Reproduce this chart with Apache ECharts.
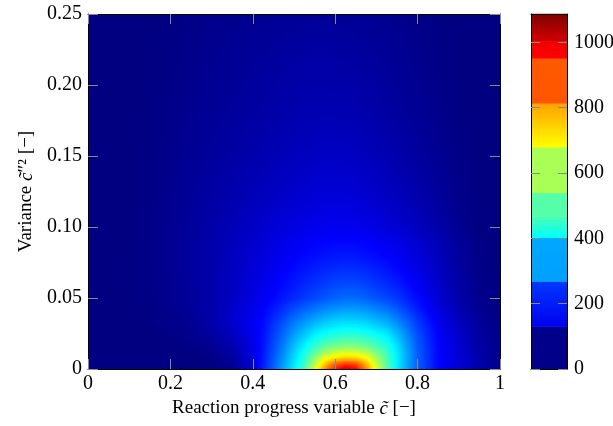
<!DOCTYPE html>
<html>
<head>
<meta charset="utf-8">
<script src="https://cdn.jsdelivr.net/npm/echarts@6/dist/echarts.min.js"></script>
<style>
html,body{margin:0;padding:0;background:#fff;}
#chart{width:613px;height:426px;}
</style>
</head>
<body>
<div id="chart"></div>
<script>
// ---------------- data ----------------
const CMAX = 1087;                       // colour bar top
const cTicks = [0, 0.2, 0.4, 0.6, 0.8, 1];
const varTicks = [0, 0.05, 0.1, 0.15, 0.2, 0.25];
const colorTicks = [0, 200, 400, 600, 800, 1000];

// sample positions of the field
const cSamples = [0,0.05,0.1,0.15,0.2,0.25,0.3,0.35,0.4,0.425,0.45,0.475,0.5,0.525,0.55,0.575,0.6,0.625,0.65,0.675,0.7,0.725,0.75,0.775,0.8,0.85,0.9,0.95,1];
const varSamples = [0,0.002,0.004,0.006,0.008,0.01,0.0125,0.015,0.0175,0.02,0.025,0.03,0.035,0.04,0.045,0.05,0.06,0.07,0.08,0.09,0.1,0.11,0.12,0.14,0.16,0.18,0.2,0.225,0.25];

// mean reaction rate, one row per variance sample (estimated from colours)
const rateRows = [
  [0,0,0,0,0,0,3,15,90,170,240,315,390,480,650,800,930,1000,960,800,640,500,390,310,235,140,95,50,15],
  [0,0,0,0,0,0,4,18,92,168,237,310,386,472,625,770,885,945,915,790,635,500,392,311,236,140,94,48,14],
  [0,0,0,0,0,0,5,22,94,166,234,305,381,463,600,735,845,890,870,760,620,498,393,312,237,140,93,46,14],
  [0,0,0,0,0,1,6,26,96,164,231,300,376,454,575,695,770,800,790,720,600,494,393,312,237,140,92,45,13],
  [0,0,0,0,0,1,8,30,98,162,228,295,370,444,552,655,710,735,728,680,580,488,392,312,237,140,91,44,13],
  [0,0,0,0,1,2,10,34,100,160,225,290,364,434,530,615,665,690,683,645,560,480,390,311,236,140,90,43,13],
  [0,0,0,0,1,3,13,40,103,158,221,283,355,419,500,565,605,625,620,590,530,466,385,308,235,139,89,41,12],
  [0,0,0,1,2,5,17,46,106,156,217,276,345,404,473,525,556,570,566,545,500,450,378,303,233,138,88,40,12],
  [0,0,0,1,3,7,21,52,109,154,213,269,335,389,450,495,522,535,532,515,477,435,370,298,230,137,87,39,11],
  [0,0,0,1,4,9,26,58,112,152,209,262,324,374,428,465,490,500,498,484,455,418,360,292,226,135,85,38,10],
  [0,0,0,2,6,14,34,68,117,150,201,248,303,345,390,415,435,445,443,432,410,385,335,275,217,131,80,34,8],
  [0,0,1,3,9,20,42,76,120,147,192,233,280,315,352,375,390,398,396,386,365,345,305,255,205,125,72,30,7],
  [0,0,1,4,11,23,46,80,119,142,180,215,255,285,315,338,352,357,355,347,328,310,275,235,190,117,65,26,5],
  [0,0,2,5,13,26,48,80,116,136,166,196,230,256,278,298,312,320,318,310,292,275,245,210,173,108,58,22,4],
  [0,0,2,6,15,28,47,77,111,129,153,178,204,226,245,262,275,285,283,275,258,242,218,188,158,99,51,18,3],
  [0,1,3,7,16,30,45,72,105,122,140,160,178,196,212,228,242,252,250,240,225,210,195,170,145,90,45,15,2],
  [0,0,3,8,17,31,46,70,98,113,128,144,160,175,188,200,210,215,213,205,193,180,165,145,125,80,40,12,1],
  [0,0,3,8,18,32,46,68,92,105,118,131,144,156,166,175,182,185,183,177,167,156,143,127,110,72,35,10,1],
  [0,0,3,9,18,32,46,66,87,98,109,120,131,140,148,154,158,160,158,153,145,136,125,112,98,65,31,8,0],
  [0,0,2,9,18,32,45,63,82,92,102,111,120,127,133,137,139,140,138,133,126,118,109,98,86,58,27,6,0],
  [0,0,2,9,18,31,44,58,74,82,90,98,105,111,115,118,120,119,116,111,104,96,88,78,67,45,20,4,0],
  [0,0,2,8,17,29,41,53,67,74,81,88,94,99,103,106,108,107,104,99,93,85,77,68,58,38,16,3,0],
  [0,0,1,7,16,27,38,49,61,67,73,79,85,89,93,96,97,96,93,88,82,75,67,59,50,32,13,2,0],
  [0,0,1,6,14,24,33,42,51,56,61,66,70,74,77,79,80,79,76,72,66,60,53,46,38,24,9,1,0],
  [0,0,1,5,12,20,28,35,43,47,51,55,59,62,64,66,66,65,62,58,53,48,42,36,30,18,6,1,0],
  [0,0,0,4,10,17,24,30,36,40,43,46,49,52,54,55,54,53,51,47,43,38,33,28,23,13,4,0,0],
  [0,0,0,3,8,14,20,25,31,34,37,40,42,44,46,46,45,44,42,39,35,31,27,23,19,10,3,0,0],
  [0,0,0,2,6,11,16,20,25,27,29,31,33,35,36,36,35,34,32,30,27,24,21,18,14,7,2,0,0],
  [0,0,0,1,4,8,12,15,18,20,21,23,24,25,26,26,25,24,23,21,19,17,15,12,9,5,1,0,0]
];

// colour-bar bands (value edges) as drawn in the reference legend
const barBandEdges = [0,130,268,402,467,539,679,814,952,1003,1087];
const barBandColors = [
  ['#000088','#00008c'],['#0000ee','#0038ff'],['#00a0ff','#00a8ff'],['#00ffff','#4dffb3'],
  ['#55ffaa','#55ffaa'],['#aaff55','#aaff55'],['#ffff00','#ffa000'],['#ff5500','#ff5a00'],
  ['#ff0000','#f00000'],['#d40000','#800000']
];

// ---------------- helpers (shading only) ----------------
function jet(v) {
  const t = Math.max(0, Math.min(1, v / CMAX));
  const f = x => Math.round(255 * Math.max(0, Math.min(1, 1.5 - Math.abs(4 * t - x))));
  return 'rgb(' + f(3) + ',' + f(2) + ',' + f(1) + ')';
}
const C0 = cSamples[0], C1 = cSamples[cSamples.length - 1];
const SUBSTOPS = 4;
function rowGradient(rowA, rowB, s) {
  const stops = [];
  for (let ci = 0; ci < cSamples.length - 1; ci++) {
    const a = (1 - s) * rowA[ci] + s * rowB[ci];
    const b = (1 - s) * rowA[ci + 1] + s * rowB[ci + 1];
    for (let j = 0; j < SUBSTOPS; j++) {
      const u = j / SUBSTOPS;
      const c = cSamples[ci] + u * (cSamples[ci + 1] - cSamples[ci]);
      stops.push({ offset: (c - C0) / (C1 - C0), color: jet(a + u * (b - a)) });
    }
  }
  const last = cSamples.length - 1;
  stops.push({ offset: 1, color: jet((1 - s) * rowA[last] + s * rowB[last]) });
  return { type: 'linear', x: 0, y: 0, x2: 1, y2: 0, colorStops: stops };
}

// one item per pair of neighbouring variance rows
const stripData = [];
for (let ri = 0; ri < varSamples.length - 1; ri++) stripData.push([C0, varSamples[ri], ri]);
const bandData = [];
for (let i = 0; i < barBandEdges.length - 1; i++) bandData.push([0, barBandEdges[i], barBandEdges[i + 1], i]);

const FONT = '"Liberation Serif", "Times New Roman", serif';
const TICKC = '#8a8a8a';
const txt = { fontFamily: FONT, fontSize: 19, color: '#000' };
const tickTxt = { fontFamily: FONT, fontSize: 20, color: '#000' };

const chart = echarts.init(document.getElementById('chart'), null, { renderer: 'canvas' });
const option = {
  animation: false,
  backgroundColor: '#fff',
  grid: [
    { left: 88, top: 14, width: 412, height: 355, outerBoundsMode: 'none', containLabel: false },
    { left: 531, top: 14, width: 36, height: 355, outerBoundsMode: 'none', containLabel: false }
  ],
  xAxis: [
    { gridIndex: 0, type: 'value', min: 0, max: 1, interval: 0.2, position: 'bottom', z: 10,
      axisLine: { show: true, onZero: false, lineStyle: { color: '#000', width: 1 } },
      axisTick: { show: true, inside: true, length: 10, lineStyle: { color: TICKC }, customValues: cTicks },
      axisLabel: Object.assign({ margin: 5, customValues: cTicks, formatter: v => String(+(+v).toFixed(2)) }, tickTxt),
      splitLine: { show: false },
      name: '{n|Reaction progress variable }{i|c\u0303}{n| [\u2212]}',
      nameLocation: 'middle', nameGap: 30,
      nameTextStyle: Object.assign({ rich: { n: txt, i: Object.assign({ fontStyle: 'italic' }, txt) } }, txt) },
    { gridIndex: 0, type: 'value', min: 0, max: 1, interval: 0.2, position: 'top', z: 10,
      axisLine: { show: true, onZero: false, lineStyle: { color: '#000', width: 1 } },
      axisTick: { show: true, inside: true, length: 10, lineStyle: { color: TICKC }, customValues: cTicks },
      axisLabel: { show: false }, splitLine: { show: false } },
    { gridIndex: 1, type: 'value', min: 0, max: 1, position: 'bottom', z: 10,
      axisLine: { show: true, onZero: false, lineStyle: { color: '#000', width: 1 } },
      axisTick: { show: false }, axisLabel: { show: false }, splitLine: { show: false } },
    { gridIndex: 1, type: 'value', min: 0, max: 1, position: 'top', z: 10,
      axisLine: { show: true, onZero: false, lineStyle: { color: '#000', width: 1 } },
      axisTick: { show: false }, axisLabel: { show: false }, splitLine: { show: false } }
  ],
  yAxis: [
    { gridIndex: 0, type: 'value', min: 0, max: 0.25, interval: 0.05, position: 'left', z: 10,
      axisLine: { show: true, onZero: false, lineStyle: { color: '#000', width: 1 } },
      axisTick: { show: true, inside: true, length: 10, lineStyle: { color: TICKC }, customValues: varTicks },
      axisLabel: Object.assign({ margin: 6, customValues: varTicks, formatter: v => (+v) === 0 ? '0' : (+v).toFixed(2) }, tickTxt),
      splitLine: { show: false },
      name: '{n|Variance }{i|c\u0303}{n|\u2033\u00B2 [\u2212]}',
      nameLocation: 'middle', nameGap: 52, nameRotate: 90,
      nameTextStyle: Object.assign({ rich: { n: txt, i: Object.assign({ fontStyle: 'italic' }, txt) } }, txt) },
    { gridIndex: 0, type: 'value', min: 0, max: 0.25, interval: 0.05, position: 'right', z: 10,
      axisLine: { show: true, onZero: false, lineStyle: { color: '#000', width: 1 } },
      axisTick: { show: true, inside: true, length: 10, lineStyle: { color: TICKC }, customValues: varTicks },
      axisLabel: { show: false }, splitLine: { show: false } },
    { gridIndex: 1, type: 'value', min: 0, max: CMAX, position: 'left', z: 10,
      axisLine: { show: true, onZero: false, lineStyle: { color: '#000', width: 1 } },
      axisTick: { show: true, inside: true, length: 9, lineStyle: { color: TICKC }, customValues: colorTicks },
      axisLabel: { show: false }, splitLine: { show: false } },
    { gridIndex: 1, type: 'value', min: 0, max: CMAX, position: 'right', z: 10,
      axisLine: { show: true, onZero: false, lineStyle: { color: '#000', width: 1 } },
      axisTick: { show: true, inside: true, length: 9, lineStyle: { color: TICKC }, customValues: colorTicks },
      axisLabel: Object.assign({ margin: 7, customValues: colorTicks, formatter: v => String(Math.round(+v)) }, tickTxt),
      splitLine: { show: false } }
  ],
  series: [
    {
      type: 'custom', xAxisIndex: 0, yAxisIndex: 0, z: 1, clip: true, silent: true,
      data: stripData, encode: { x: 0, y: 1 },
      renderItem: function (params, api) {
        const ri = api.value(2);
        const vA = varSamples[ri], vB = varSamples[ri + 1];
        const rowA = rateRows[ri], rowB = rateRows[ri + 1];
        const pA = api.coord([C0, vA]), pB = api.coord([C1, vB]);
        const hPix = Math.abs(pA[1] - pB[1]);
        const K = Math.max(1, Math.ceil(hPix / 1.5));
        const children = [];
        for (let k = 0; k < K; k++) {
          const y0 = pA[1] + (pB[1] - pA[1]) * k / K;
          const y1 = pA[1] + (pB[1] - pA[1]) * (k + 1) / K;
          const s = (k + 0.5) / K;
          children.push({
            type: 'rect',
            shape: { x: pA[0], y: Math.min(y0, y1) - 0.4, width: pB[0] - pA[0], height: Math.abs(y1 - y0) + 0.8 },
            style: { fill: rowGradient(rowA, rowB, s) }
          });
        }
        return { type: 'group', children: children };
      }
    },
    {
      type: 'custom', xAxisIndex: 2, yAxisIndex: 2, z: 1, silent: true,
      data: bandData, encode: { x: 0, y: 1 },
      renderItem: function (params, api) {
        const i = api.value(3);
        const p0 = api.coord([0, api.value(1)]);
        const p1 = api.coord([1, api.value(2)]);
        return {
          type: 'rect',
          shape: { x: p0[0], y: p1[1] - 0.3, width: p1[0] - p0[0], height: p0[1] - p1[1] + 0.6 },
          style: { fill: { type: 'linear', x: 0, y: 1, x2: 0, y2: 0,
            colorStops: [{ offset: 0, color: barBandColors[i][0] }, { offset: 1, color: barBandColors[i][1] }] } }
        };
      }
    }
  ]
};
chart.setOption(option);
</script>
</body>
</html>
